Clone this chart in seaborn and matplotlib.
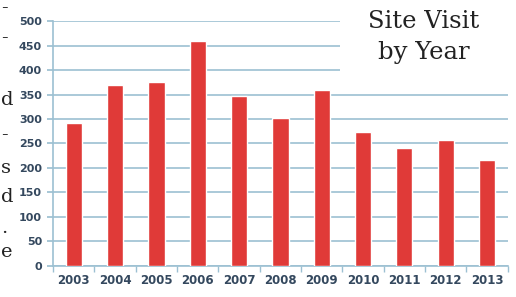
import matplotlib
matplotlib.use("Agg")
import matplotlib.pyplot as plt
import seaborn as sns
import pandas as pd

# data
years = ["2003", "2004", "2005", "2006", "2007", "2008",
         "2009", "2010", "2011", "2012", "2013"]
visits = [291, 369, 375, 460, 347, 301, 359, 274, 241, 258, 216]
y_ticks = [0, 50, 100, 150, 200, 250, 300, 350, 400, 450, 500]

# fragments of page text at the left edge of the scan
edge_text = ["-", "-", "d", "-", "s", "d", ".", "e"]
edge_y = [8, 38, 100, 135, 168, 197, 228, 252]

df = pd.DataFrame({"year": years, "visits": visits})

sns.set_theme(style="white")
grid_col = "#9cc0d2"
label_col = "#34485e"

fig = plt.figure(figsize=(5.16, 2.97), dpi=100)
ax = fig.add_axes([0.103, 0.105, 0.881, 0.824])

sns.barplot(data=df, x="year", y="visits", color="#e03a38",
            width=0.39, saturation=1, ax=ax, zorder=3)

ax.set_ylim(0, 500)
ax.set_xlim(-0.5, len(years) - 0.5)
ax.set_yticks(y_ticks)
ax.yaxis.grid(True, color=grid_col, linewidth=1.2, zorder=0)
ax.set_axisbelow(True)
ax.set_xlabel("")
ax.set_ylabel("")

for side in ["top", "right"]:
    ax.spines[side].set_visible(False)
for side in ["left", "bottom"]:
    ax.spines[side].set_color(grid_col)
    ax.spines[side].set_linewidth(1.2)

# x ticks sit between the categories
ax.set_xticks(range(len(years)))
ax.set_xticklabels(years)
ax.set_xticks([i - 0.5 for i in range(len(years) + 1)], minor=True)
ax.tick_params(axis="x", which="major", length=0, pad=6,
               labelsize=8.5, labelcolor=label_col)
ax.tick_params(axis="x", which="minor", length=4, color=grid_col,
               direction="out", bottom=True)
ax.tick_params(axis="y", length=4, color=grid_col, direction="out",
               left=True, labelsize=8, labelcolor=label_col, pad=4)
for lab in ax.get_xticklabels() + ax.get_yticklabels():
    lab.set_fontweight("bold")

# white title box in the top right corner
fig.patches.append(plt.Rectangle((340 / 516, 1 - 75 / 297), 176 / 516, 75 / 297,
                                 transform=fig.transFigure, facecolor="white",
                                 edgecolor="none", zorder=5))
fig.text(424 / 516, 1 - 22 / 297, "Site Visit", ha="center", va="center",
         family="DejaVu Serif", fontsize=17.5, color="#222222", zorder=6)
fig.text(424 / 516, 1 - 53 / 297, "by Year", ha="center", va="center",
         family="DejaVu Serif", fontsize=17.5, color="#222222", zorder=6)

for t, yy in zip(edge_text, edge_y):
    fig.text(1 / 516, 1 - yy / 297, t, ha="left", va="center",
             family="DejaVu Serif", fontsize=14, color="#222222")

fig.savefig("out.png", dpi=100)
